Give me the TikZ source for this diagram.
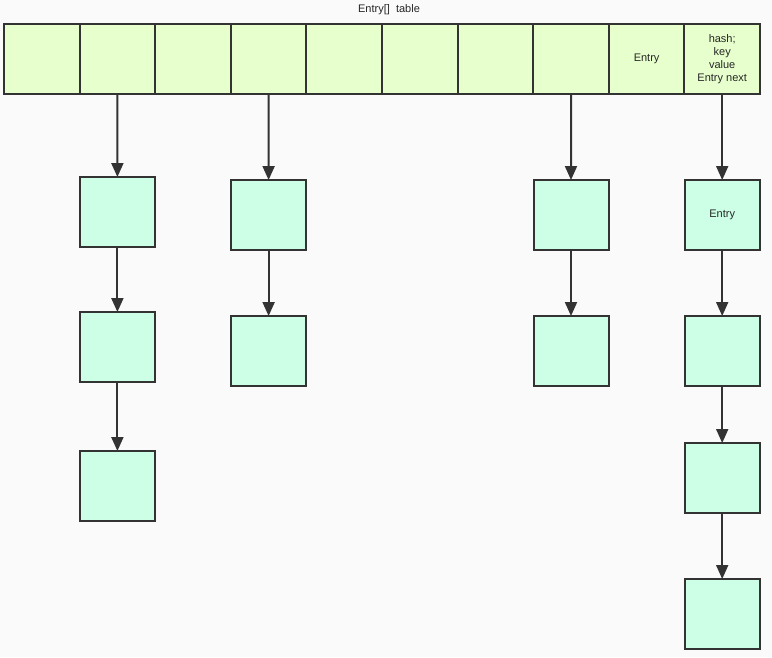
\documentclass[tikz,border=0pt]{standalone}
\usepackage{fontspec}
\setmainfont{Liberation Sans}
\usetikzlibrary{arrows.meta}
\definecolor{bg}{HTML}{FAFAFA}
\definecolor{cellfill}{HTML}{E6FFCC}
\definecolor{entryfill}{HTML}{CCFFE6}
\definecolor{edge}{HTML}{333333}
\tikzstyle{cell}=[draw=edge,fill=cellfill,line width=2pt,minimum width=75.6pt,minimum height=70pt,inner sep=0pt,outer sep=0pt,font=\fontsize{11}{13}\selectfont,align=center,text=black!85]
\tikzstyle{entry}=[draw=edge,fill=entryfill,line width=2pt,minimum width=75pt,minimum height=70pt,inner sep=0pt,outer sep=0pt,font=\fontsize{11}{13}\selectfont,text=black!85]
\tikzstyle{p}=[-{Triangle[length=14pt,width=12pt]},draw=edge,fill=edge,line width=2pt]

\begin{document}
\begin{tikzpicture}[x=1pt,y=-1pt]
    \useasboundingbox[fill=bg] (0,0) rectangle (772,657);
    \node[font=\fontsize{11}{13}\selectfont,text=black!85] (title) at (389,10) {Entry[]\ \ table};
    % table row
    \foreach \i in {1,...,8}
        \node[cell] (t\i) at (4+75.6*\i-37.8,59) {};
    \node[cell] (t9) at (646.6,59) {Entry};
    \node[cell] (t10) at (722.2,59) {hash;\\key\\value\\Entry next};
    % chain 2
    \node[entry] (a1) at (117.4,212) {};
    \node[entry] (a2) at (117.4,347) {};
    \node[entry] (a3) at (117.4,486) {};
    % chain 4
    \node[entry] (b1) at (268.6,215) {};
    \node[entry] (b2) at (268.6,351) {};
    % chain 8
    \node[entry] (c1) at (571,215) {};
    \node[entry] (c2) at (571,351) {};
    % chain 10
    \node[entry] (d1) at (722.2,215) {Entry};
    \node[entry] (d2) at (722.2,351) {};
    \node[entry] (d3) at (722.2,478) {};
    \node[entry] (d4) at (722.2,614) {};
    \draw[p] (t2) to (a1);
    \draw[p] (a1) to (a2);
    \draw[p] (a2) to (a3);
    \draw[p] (t4) to (b1);
    \draw[p] (b1) to (b2);
    \draw[p] (t8) to (c1);
    \draw[p] (c1) to (c2);
    \draw[p] (t10) to (d1);
    \draw[p] (d1) to (d2);
    \draw[p] (d2) to (d3);
    \draw[p] (d3) to (d4);
\end{tikzpicture}
\end{document}
